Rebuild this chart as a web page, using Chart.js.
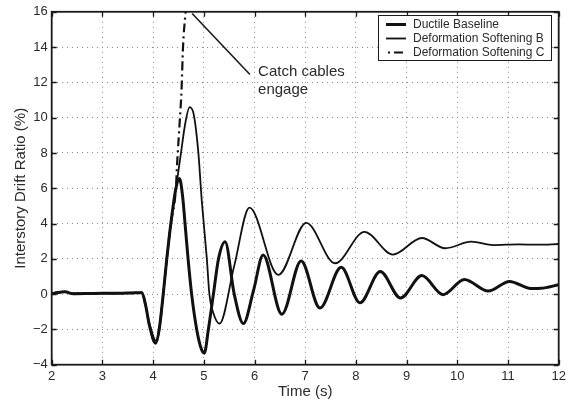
<!DOCTYPE html>
<html>
<head>
<meta charset="utf-8">
<script src="https://cdn.jsdelivr.net/npm/chart.js@4.4.0/dist/chart.umd.min.js"></script>
<style>
    html, body { margin: 0; padding: 0; background: #fff; }
    #wrap { width: 570px; height: 405px; }
</style>
</head>
<body>
<div id="wrap"><canvas id="driftChart" width="570" height="405"></canvas></div>
<script>
// axis ticks
const xTicks = [2, 3, 4, 5, 6, 7, 8, 9, 10, 11, 12];
const yTicks = [-4, -2, 0, 2, 4, 6, 8, 10, 12, 14, 16];

// Ductile Baseline (thick solid)
const ductileT = [2.0, 2.1, 2.26, 2.43, 2.7, 3.0, 3.3, 3.6, 3.78, 3.85, 3.93, 4.05, 4.12, 4.2, 4.27, 4.35, 4.45, 4.52,
    4.58, 4.63, 4.69, 4.76, 4.86, 4.95, 5.01, 5.09, 5.19, 5.29, 5.42, 5.6, 5.78, 5.98, 6.17, 6.54, 6.92, 7.29, 7.71,
    8.08, 8.48, 8.88, 9.30, 9.72, 10.14, 10.61, 11.03, 11.45, 11.65, 12.0];
const ductileY = [0.02, 0.08, 0.13, 0.02, 0.03, 0.05, 0.05, 0.07, 0.08, -0.6, -1.8, -2.78, -2.0, 0, 2, 4, 6, 6.55,
    5.6, 4, 2, 0, -2, -3.1, -3.35, -2, 0, 2, 2.97, 0, -1.67, 0.2, 2.22, -1.14, 1.88, -0.79, 1.52,
    -0.49, 1.28, -0.22, 1.05, -0.03, 0.83, 0.17, 0.72, 0.32, 0.33, 0.53];

// Deformation Softening B (thin solid)
const softBT = [2.0, 2.1, 2.26, 2.43, 2.7, 3.0, 3.3, 3.6, 3.78, 3.85, 3.93, 4.06, 4.12, 4.2, 4.27, 4.35, 4.45, 4.55,
    4.63, 4.72, 4.8, 4.89, 4.96, 5.06, 5.11, 5.18, 5.31, 5.6, 5.9, 6.47, 7.02, 7.59, 8.17, 8.73, 9.30, 9.76, 10.28,
    10.71, 11.2, 11.6, 12.0];
const softBY = [0.02, 0.08, 0.13, 0.02, 0.03, 0.05, 0.05, 0.07, 0.08, -0.6, -1.7, -2.65, -2.0, 0, 2, 4, 6, 8,
    9.6, 10.6, 10.2, 8.1, 5.3, 2, 0, -1, -1.67, 1.6, 4.9, 1.09, 4.04, 1.75, 3.53, 2.24, 3.18, 2.6, 2.97,
    2.78, 2.82, 2.8, 2.84];

// Deformation Softening C (dash-dot), runs off the top when the catch cables engage
const softCT = [2.0, 2.1, 2.26, 2.43, 2.7, 3.0, 3.3, 3.6, 3.78, 3.85, 3.93, 4.05, 4.12, 4.2, 4.27, 4.35, 4.45, 4.47,
    4.53, 4.56, 4.59, 4.64];
const softCY = [0.02, 0.08, 0.13, 0.02, 0.03, 0.05, 0.05, 0.07, 0.08, -0.6, -1.8, -2.78, -2.0, 0, 2, 4, 6, 7.2,
    10, 11.5, 14, 16];

const pts = (ts, ys) => ts.map((t, i) => ({ x: t, y: ys[i] }));
const FONT = "'Liberation Sans', Arial, Helvetica, sans-serif";
const INK = '#1a1a1a';
const LABEL = '#2a2a2a';

// box, inward tick marks, legend and the arrow note
const extras = {
    id: 'extras',
    afterDraw(chart) {
        const { ctx, chartArea: a, scales: { x, y } } = chart;
        ctx.save();

        ctx.strokeStyle = INK;
        ctx.lineWidth = 1.3;
        ctx.beginPath();
        xTicks.forEach(v => {
            const px = Math.round(x.getPixelForValue(v)) + 0.5;
            ctx.moveTo(px, a.bottom); ctx.lineTo(px, a.bottom - 5);
            ctx.moveTo(px, a.top); ctx.lineTo(px, a.top + 5);
        });
        yTicks.forEach(v => {
            const py = Math.round(y.getPixelForValue(v)) + 0.5;
            ctx.moveTo(a.left, py); ctx.lineTo(a.left + 5, py);
            ctx.moveTo(a.right, py); ctx.lineTo(a.right - 5, py);
        });
        ctx.stroke();
        ctx.lineWidth = 1.8;
        ctx.strokeRect(a.left, a.top, a.right - a.left, a.bottom - a.top);

        // annotation
        ctx.lineWidth = 1.6;
        ctx.beginPath();
        ctx.moveTo(x.getPixelForValue(4.77), y.getPixelForValue(15.9));
        ctx.lineTo(x.getPixelForValue(5.91), y.getPixelForValue(12.45));
        ctx.stroke();
        ctx.fillStyle = LABEL;
        ctx.font = '15px ' + FONT;
        ctx.textAlign = 'left';
        ctx.textBaseline = 'middle';
        const tx = x.getPixelForValue(6.07);
        ctx.fillText('Catch cables', tx, y.getPixelForValue(12.6));
        ctx.fillText('engage', tx, y.getPixelForValue(11.6));

        // legend
        const bx = 378.5, by = 15.5, bw = 173, bh = 45;
        ctx.fillStyle = '#fff';
        ctx.fillRect(bx, by, bw, bh);
        ctx.lineWidth = 1;
        ctx.strokeStyle = INK;
        ctx.strokeRect(bx, by, bw, bh);
        ctx.font = '12px ' + FONT;
        chart.data.datasets.forEach((ds, i) => {
            const ry = 24.5 + i * 14;
            ctx.strokeStyle = ds.borderColor;
            ctx.lineWidth = ds.borderWidth;
            ctx.setLineDash(ds.borderDash || []);
            ctx.lineDashOffset = ds.borderDash ? 11 : 0;
            ctx.beginPath();
            ctx.moveTo(386, ry); ctx.lineTo(406, ry);
            ctx.stroke();
            ctx.setLineDash([]);
            ctx.fillStyle = LABEL;
            ctx.fillText(ds.label, 413, ry);
        });
        ctx.restore();
    }
};

new Chart(document.getElementById('driftChart'), {
    type: 'line',
    data: {
        datasets: [
            { label: 'Ductile Baseline', data: pts(ductileT, ductileY), borderColor: '#111', borderWidth: 3 },
            { label: 'Deformation Softening B', data: pts(softBT, softBY), borderColor: '#111', borderWidth: 1.8 },
            { label: 'Deformation Softening C', data: pts(softCT, softCY), borderColor: '#111', borderWidth: 2.2, borderDash: [9, 4, 2, 4] }
        ]
    },
    options: {
        responsive: false,
        animation: false,
        elements: { point: { radius: 0 }, line: { cubicInterpolationMode: 'monotone', fill: false } },
        layout: { padding: { top: 9.7, right: 11.3, left: 0, bottom: 0 } },
        plugins: { legend: { display: false }, tooltip: { enabled: false } },
        scales: {
            x: {
                type: 'linear', position: 'bottom', min: 2, max: 12,
                afterBuildTicks: s => { s.ticks = xTicks.map(v => ({ value: v })); },
                afterFit: s => { s.height = 40.3; },
                ticks: { font: { family: FONT, size: 13 }, color: LABEL, padding: 4, maxRotation: 0, autoSkip: false },
                grid: { color: '#8a8a8a', lineWidth: 1, drawTicks: false },
                border: { display: false, dash: [1, 4] },
                title: { display: true, text: 'Time (s)', color: LABEL, font: { family: FONT, size: 15 }, padding: { top: 0, bottom: 4 } }
            },
            y: {
                type: 'linear', position: 'left', min: -4, max: 16,
                afterBuildTicks: s => { s.ticks = yTicks.map(v => ({ value: v })); },
                afterFit: s => { s.width = 51.7; },
                ticks: { font: { family: FONT, size: 13 }, color: LABEL, padding: 4, autoSkip: false, callback: v => String(v).replace('-', '\u2212') },
                grid: { color: '#8a8a8a', lineWidth: 1, drawTicks: false },
                border: { display: false, dash: [1, 4] },
                title: { display: true, text: 'Interstory Drift Ratio (%)', color: LABEL, font: { family: FONT, size: 15 }, padding: { top: 12, bottom: 0 } }
            }
        }
    },
    plugins: [extras]
});
</script>
</body>
</html>
